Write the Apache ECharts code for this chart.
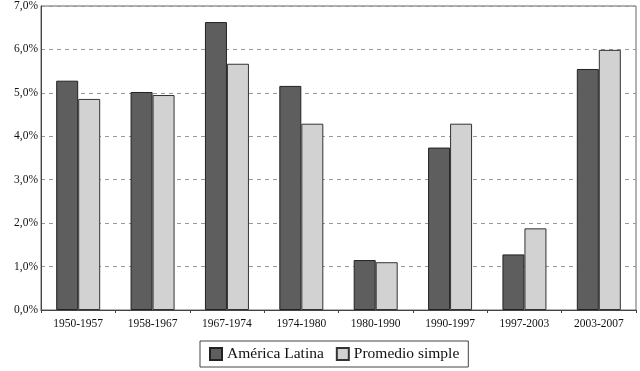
<!DOCTYPE html>
<html><head><meta charset="utf-8">
<script src="https://cdn.jsdelivr.net/npm/echarts@6/dist/echarts.min.js"></script>
<style>html,body{margin:0;padding:0;background:#fff}#c{width:640px;height:371px}</style>
</head><body><div id="c"></div>
<script>
const categories = ['1950-1957','1958-1967','1967-1974','1974-1980','1980-1990','1990-1997','1997-2003','2003-2007'];
const americaLatina = [5.28, 5.02, 6.63, 5.16, 1.15, 3.74, 1.28, 5.55];
const promedioSimple = [4.86, 4.95, 5.67, 4.29, 1.10, 4.29, 1.88, 5.99];
const seriesNames = ['América Latina', 'Promedio simple'];

const chart = echarts.init(document.getElementById('c'));
const font = '"Liberation Serif", "DejaVu Serif", serif';
chart.setOption({
  animation: false,
  textStyle: { fontFamily: font },
  grid: { left: 41, right: 4, top: 5, bottom: 61, show: true, borderColor: '#666', borderWidth: 1, backgroundColor: '#fff' },
  legend: {
    bottom: 4, left: 200,
    data: seriesNames,
    icon: 'rect',
    itemWidth: 12, itemHeight: 12, itemGap: 12,
    padding: [5, 9],
    borderColor: '#444', borderWidth: 1,
    textStyle: { fontFamily: font, fontSize: 15.5, color: '#111' }
  },
  xAxis: {
    type: 'category', data: categories,
    axisLine: { lineStyle: { color: '#444' } },
    axisTick: { show: true, length: 3, lineStyle: { color: '#444' } },
    axisLabel: { fontFamily: font, fontSize: 11.5, color: '#111', margin: 8 }
  },
  yAxis: {
    type: 'value', min: 0, max: 7, interval: 1,
    axisLine: { show: true, lineStyle: { color: '#444' } },
    axisTick: { show: false },
    axisLabel: { fontFamily: font, fontSize: 11.5, color: '#111', margin: 3,
      formatter: v => v.toFixed(1).replace('.', ',') + '%' },
    splitLine: { lineStyle: { color: '#999', type: [4, 4] } }
  },
  series: [
    { name: seriesNames[0], type: 'bar', data: americaLatina, barWidth: 22, barGap: '0%',
      itemStyle: { color: '#5e5e5e', borderColor: '#222', borderWidth: 1 } },
    { name: seriesNames[1], type: 'bar', data: promedioSimple, barWidth: 22, barGap: '0%',
      itemStyle: { color: '#d2d2d2', borderColor: '#333', borderWidth: 1 } }
  ]
});
</script></body></html>
